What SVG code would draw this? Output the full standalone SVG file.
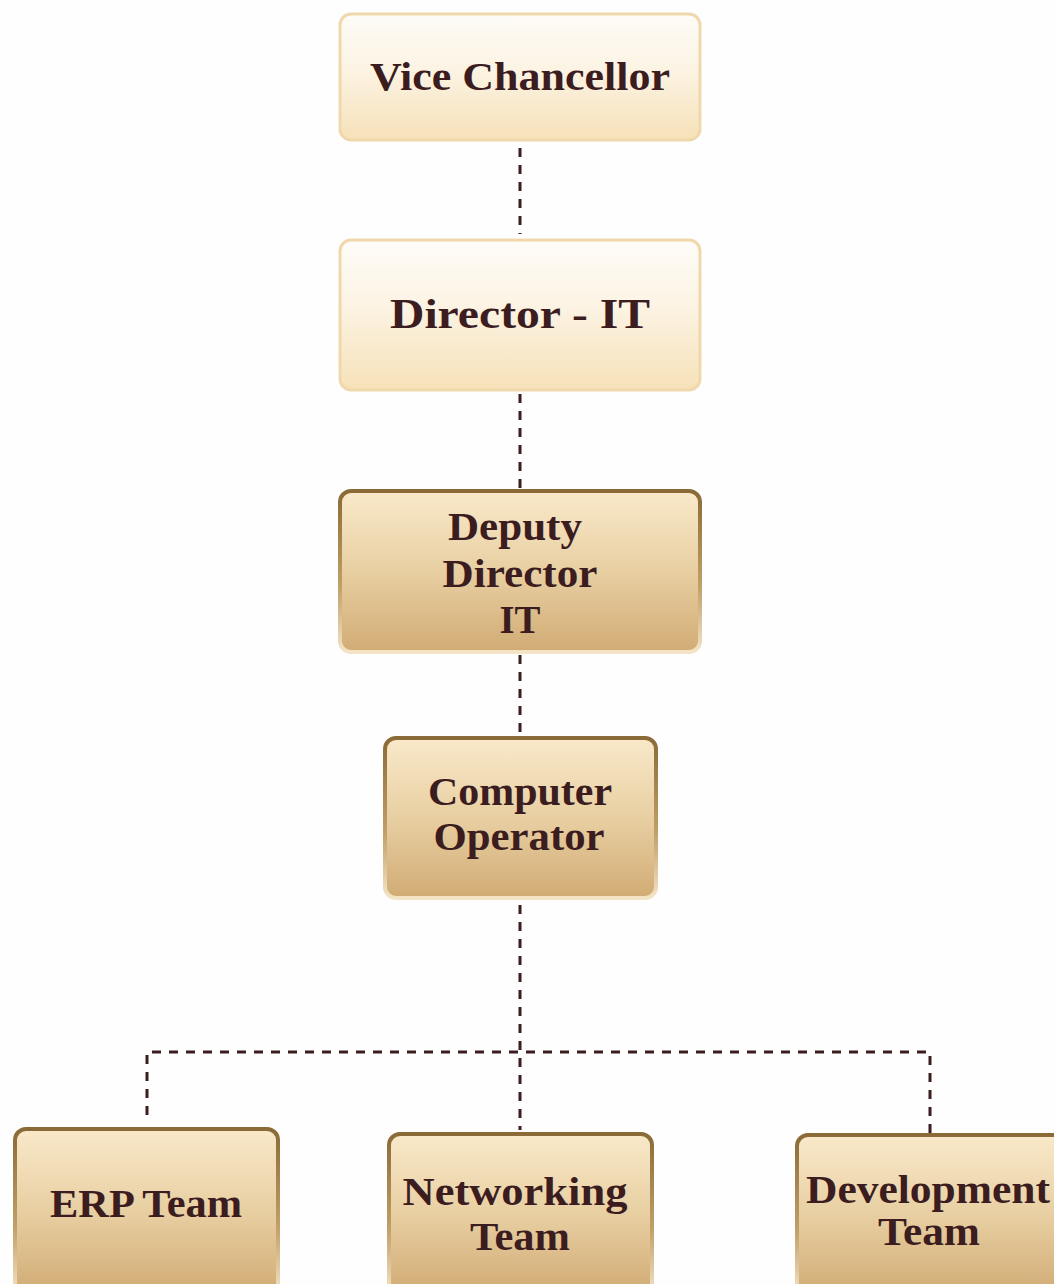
<svg xmlns="http://www.w3.org/2000/svg" width="1054" height="1284" viewBox="0 0 1054 1284">
<defs>
<linearGradient id="gLight" x1="0" y1="0" x2="0" y2="1">
<stop offset="0" stop-color="#fefcf8"/>
<stop offset="0.45" stop-color="#fcf3e3"/>
<stop offset="1" stop-color="#f6e1b8"/>
</linearGradient>
<linearGradient id="gDark" x1="0" y1="0" x2="0" y2="1">
<stop offset="0" stop-color="#f9e9ca"/>
<stop offset="0.5" stop-color="#e8cfa2"/>
<stop offset="1" stop-color="#d1ab74"/>
</linearGradient>
<linearGradient id="sDark" x1="0" y1="0" x2="0" y2="1">
<stop offset="0" stop-color="#8a6a36"/>
<stop offset="0.6" stop-color="#c2a06a"/>
<stop offset="1" stop-color="#f4e4c6"/>
</linearGradient>
<style>
.light{fill:url(#gLight);stroke:#efd9ac;stroke-width:3}
.dark{fill:url(#gDark);stroke:url(#sDark);stroke-width:4}
.t{font-family:"Liberation Serif","DejaVu Serif",serif;font-weight:bold;fill:#3b1c1f;text-anchor:middle;font-size:39px}
.c{fill:none;stroke:#3b1c1f;stroke-width:3;stroke-dasharray:9 8}
</style>
</defs>
<rect width="1054" height="1284" fill="#fefefe"/>
<g id="connectors">
<line class="c" x1="520" y1="148" x2="520" y2="234"/>
<line class="c" x1="520" y1="394" x2="520" y2="488"/>
<line class="c" x1="520" y1="655" x2="520" y2="732"/>
<line class="c" x1="520" y1="905" x2="520" y2="1130"/>
<polyline class="c" points="147,1115 147,1052 930,1052 930,1135"/>
</g>
<g id="vice-chancellor">
<rect class="light" x="340" y="14" width="360" height="126" rx="11"/>
<text class="t" x="520" y="90" textLength="300" lengthAdjust="spacingAndGlyphs">Vice Chancellor</text>
</g>
<g id="director-it">
<rect class="light" x="340" y="240" width="360" height="150" rx="11"/>
<text class="t" x="520" y="328" style="font-size:42px" textLength="260" lengthAdjust="spacingAndGlyphs">Director - IT</text>
</g>
<g id="deputy-director-it">
<rect class="dark" x="340" y="491" width="360" height="161" rx="11"/>
<text class="t" x="515" y="540" textLength="134" lengthAdjust="spacingAndGlyphs">Deputy</text>
<text class="t" x="520" y="587" textLength="155" lengthAdjust="spacingAndGlyphs">Director</text>
<text class="t" x="520" y="633" textLength="41" lengthAdjust="spacingAndGlyphs">IT</text>
</g>
<g id="computer-operator">
<rect class="dark" x="385" y="738" width="271" height="160" rx="11"/>
<text class="t" x="520" y="805" textLength="184" lengthAdjust="spacingAndGlyphs">Computer</text>
<text class="t" x="519" y="850" textLength="171" lengthAdjust="spacingAndGlyphs">Operator</text>
</g>
<g id="erp-team">
<rect class="dark" x="15" y="1129" width="263" height="165" rx="11"/>
<text class="t" x="146" y="1217" textLength="192" lengthAdjust="spacingAndGlyphs">ERP Team</text>
</g>
<g id="networking-team">
<rect class="dark" x="389" y="1134" width="263" height="160" rx="11"/>
<text class="t" x="515" y="1205" textLength="225" lengthAdjust="spacingAndGlyphs">Networking</text>
<text class="t" x="520" y="1250" textLength="100" lengthAdjust="spacingAndGlyphs">Team</text>
</g>
<g id="development-team">
<rect class="dark" x="797" y="1135" width="270" height="160" rx="11"/>
<text class="t" x="928" y="1203" textLength="244" lengthAdjust="spacingAndGlyphs">Development</text>
<text class="t" x="929" y="1245" textLength="102" lengthAdjust="spacingAndGlyphs">Team</text>
</g>
</svg>
